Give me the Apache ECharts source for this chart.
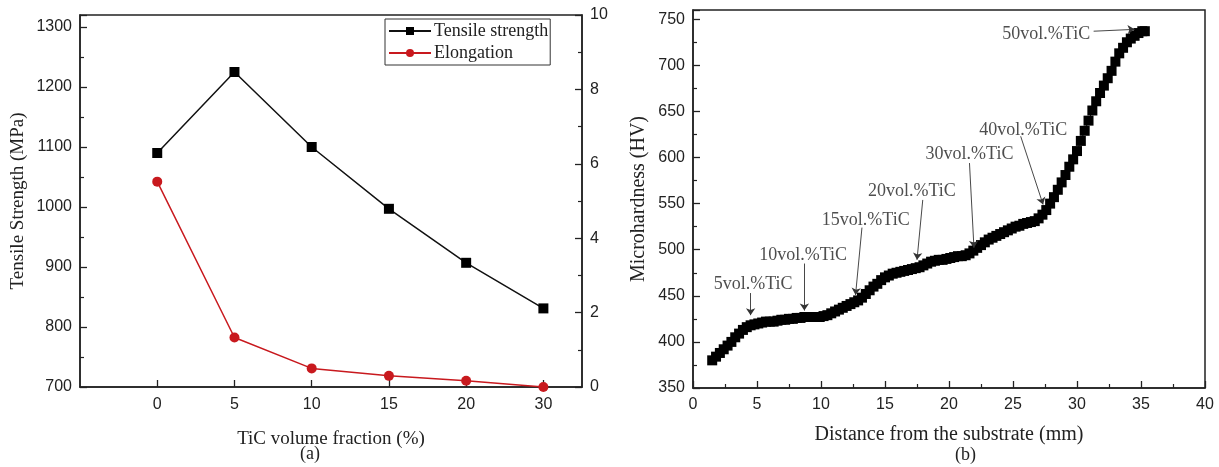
<!DOCTYPE html>
<html>
<head>
<meta charset="utf-8">
<script src="https://cdn.jsdelivr.net/npm/echarts@6/dist/echarts.min.js"></script>
<style>
  html, body { margin: 0; padding: 0; background: #fff; }
  #chart { width: 1219px; height: 467px; }
</style>
</head>
<body>
<div id="chart"></div>
<script>
// (a) Tensile properties versus TiC volume fraction
const fractionLabels = ['0', '5', '10', '15', '20', '30'];
const tensileStrength = [1090, 1225, 1100, 997, 907, 831];   // MPa
const elongation = [5.52, 1.33, 0.50, 0.30, 0.17, 0.0];      // %

// (b) Microhardness profile along the build height
const distanceMm = [
  1.5, 1.8, 2.1, 2.4, 2.7, 3.0, 3.3, 3.6, 3.9, 4.2, 4.5, 4.8, 5.1, 5.4, 5.7, 6.0,
  6.3, 6.6, 6.9, 7.2, 7.5, 7.8, 8.1, 8.4, 8.7, 9.0, 9.3, 9.6, 9.9, 10.2, 10.5, 10.8,
  11.1, 11.4, 11.7, 12.0, 12.3, 12.6, 12.9, 13.2, 13.5, 13.8, 14.1, 14.4, 14.7, 15.0,
  15.3, 15.6, 15.9, 16.2, 16.5, 16.8, 17.1, 17.4, 17.7, 18.0, 18.3, 18.6, 18.9, 19.2,
  19.5, 19.8, 20.1, 20.4, 20.7, 21.0, 21.3, 21.6, 21.9, 22.2, 22.5, 22.8, 23.1, 23.4,
  23.7, 24.0, 24.3, 24.6, 24.9, 25.2, 25.5, 25.8, 26.1, 26.4, 26.7, 27.0, 27.3, 27.6,
  27.9, 28.2, 28.5, 28.8, 29.1, 29.4, 29.7, 30.0, 30.3, 30.6, 30.9, 31.2, 31.5, 31.8,
  32.1, 32.4, 32.7, 33.0, 33.3, 33.6, 33.9, 34.2, 34.5, 34.8, 35.1, 35.3
];
const hardnessHV = [
  380, 384, 388, 392, 396, 400, 405, 409, 413, 416, 418, 419, 420, 421, 422, 422,
  422, 423, 424, 424, 425, 425, 426, 426, 427, 427, 427, 427, 427, 428, 429, 431,
  433, 435, 437, 439, 441, 443, 445, 448, 452, 456, 460, 463, 467, 470,
  472, 474, 475, 476, 477, 478, 479, 480, 481, 483, 485, 487, 488, 489,
  489, 490, 491, 492, 493, 493, 494, 496, 499, 502, 505, 508, 511, 513,
  515, 517, 519, 521, 523, 525, 526, 528, 529, 530, 531, 534, 538, 543,
  550, 557, 565, 573, 581, 590, 598, 607, 618, 629, 640, 651, 661, 670,
  678, 686, 694, 704, 713, 719, 725, 729, 732, 735, 737, 737
];

// Composition callouts on the hardness curve: [mm, HV]
const calloutTexts = ['5vol.%TiC', '10vol.%TiC', '15vol.%TiC', '20vol.%TiC', '30vol.%TiC', '40vol.%TiC', '50vol.%TiC'];
const calloutAt = [[4.7, 462], [8.6, 494], [13.5, 532], [17.1, 563], [21.6, 603], [25.8, 630], [27.6, 734]];
const arrowFrom = [[4.5, 453], [8.7, 485], [13.2, 524], [17.95, 554], [21.6, 594], [25.6, 623], [31.3, 737]];
const arrowTo = [[4.5, 429], [8.7, 434], [12.7, 451], [17.5, 489], [21.95, 502], [27.35, 549], [34.5, 739]];

const SERIF = '"Liberation Serif", "Times New Roman", serif';
const SANS = '"Liberation Sans", Arial, sans-serif';
const INK = '#222';
const RED = '#c8191e';

function plain(v) { return String(v); }

function frameAxis(extra) {
  return Object.assign({
    axisLine: { show: true, onZero: false, lineStyle: { color: INK, width: 1.5 } },
    axisTick: { show: true, inside: true, length: 7, lineStyle: { color: INK, width: 1.3 } },
    minorTick: { show: true, splitNumber: 2, length: 4, lineStyle: { color: INK, width: 1.2 } },
    splitLine: { show: false },
    minorSplitLine: { show: false },
    nameTextStyle: { color: INK, fontFamily: SERIF, fontSize: 19 }
  }, extra);
}

function tickLabels(extra) {
  return Object.assign({ color: INK, fontFamily: SANS, fontSize: 16, margin: 8, formatter: plain }, extra);
}

const chart = echarts.init(document.getElementById('chart'), null, { renderer: 'canvas' });

chart.setOption({
  animation: false,
  backgroundColor: '#fff',
  grid: [
    { left: 80, top: 15, width: 502, height: 372, show: true, borderColor: INK, borderWidth: 1.5, backgroundColor: 'transparent' },
    { left: 693, top: 10, width: 512, height: 378, show: true, borderColor: INK, borderWidth: 1.5, backgroundColor: 'transparent' }
  ],
  legend: {
    data: ['Tensile strength', 'Elongation'],
    orient: 'vertical',
    left: 385,
    top: 19,
    padding: [3, 2, 3, 3],
    itemGap: 4,
    itemWidth: 42,
    itemHeight: 10,
    borderColor: '#333',
    borderWidth: 1,
    textStyle: { color: INK, fontFamily: SERIF, fontSize: 18, padding: [0, 0, 0, -2] }
  },
  xAxis: [
    frameAxis({
      type: 'value', gridIndex: 0, min: -1, max: 5.5, interval: 1,
      name: 'TiC volume fraction (%)', nameLocation: 'middle', nameGap: 43,
      minorTick: { show: false },
      axisLabel: tickLabels({
        margin: 10,
        showMinLabel: false, showMaxLabel: false,
        formatter: function (v) {
          const i = Math.round(v);
          return (Math.abs(v - i) < 1e-6 && i >= 0 && i < fractionLabels.length) ? fractionLabels[i] : '';
        }
      })
    }),
    frameAxis({
      type: 'value', gridIndex: 1, min: 0, max: 40, interval: 5,
      name: 'Distance from the substrate (mm)', nameLocation: 'middle', nameGap: 37,
      axisLabel: tickLabels({ margin: 9 }),
      nameTextStyle: { color: INK, fontFamily: SERIF, fontSize: 20 }
    })
  ],
  yAxis: [
    frameAxis({
      type: 'value', gridIndex: 0, min: 700, max: 1320, interval: 100,
      name: 'Tensile Strength (MPa)', nameLocation: 'middle', nameGap: 52,
      axisLabel: tickLabels({ showMaxLabel: false })
    }),
    frameAxis({
      type: 'value', gridIndex: 0, position: 'right', min: 0, max: 10, interval: 2,
      axisLabel: tickLabels({ showMaxLabel: true })
    }),
    frameAxis({
      type: 'value', gridIndex: 1, min: 350, max: 760, interval: 50,
      name: 'Microhardness (HV)', nameLocation: 'middle', nameGap: 44,
      axisLabel: tickLabels({ showMaxLabel: false }),
      nameTextStyle: { color: INK, fontFamily: SERIF, fontSize: 20 }
    })
  ],
  series: [
    {
      name: 'Tensile strength',
      type: 'line',
      xAxisIndex: 0, yAxisIndex: 0,
      data: tensileStrength.map(function (v, i) { return [i, v]; }),
      symbol: 'rect', symbolSize: 10,
      lineStyle: { color: '#111', width: 1.5 },
      itemStyle: { color: '#000' }
    },
    {
      name: 'Elongation',
      type: 'line',
      xAxisIndex: 0, yAxisIndex: 1,
      data: elongation.map(function (v, i) { return [i, v]; }),
      symbol: 'circle', symbolSize: 10,
      lineStyle: { color: RED, width: 1.5 },
      itemStyle: { color: RED }
    },
    {
      name: 'Microhardness',
      type: 'line',
      xAxisIndex: 1, yAxisIndex: 2,
      data: distanceMm.map(function (d, i) { return [d, hardnessHV[i]]; }),
      symbol: 'rect', symbolSize: 10,
      lineStyle: { color: '#111', width: 1 },
      itemStyle: { color: '#000' },
      markLine: {
        silent: true,
        symbol: ['none', 'arrow'],
        symbolSize: 7,
        label: { show: false },
        lineStyle: { color: '#333', width: 0.9, type: 'solid' },
        emphasis: { disabled: true },
        data: arrowFrom.map(function (p, i) {
          return [{ coord: p }, { coord: arrowTo[i] }];
        })
      }
    },
    {
      name: 'Callouts',
      type: 'scatter',
      xAxisIndex: 1, yAxisIndex: 2,
      silent: true,
      symbolSize: 1,
      itemStyle: { color: 'transparent' },
      data: calloutAt,
      z: 5,
      label: {
        show: true,
        position: 'inside',
        color: INK,
        fontFamily: SERIF,
        fontSize: 18,
        formatter: function (p) { return calloutTexts[p.dataIndex]; }
      }
    }
  ],
  graphic: [
    { type: 'text', left: 300, top: 445, style: { text: '(a)', font: '18px ' + SERIF, fill: INK } },
    { type: 'text', left: 955, top: 446, style: { text: '(b)', font: '18px ' + SERIF, fill: INK } }
  ]
});
</script>
</body>
</html>
